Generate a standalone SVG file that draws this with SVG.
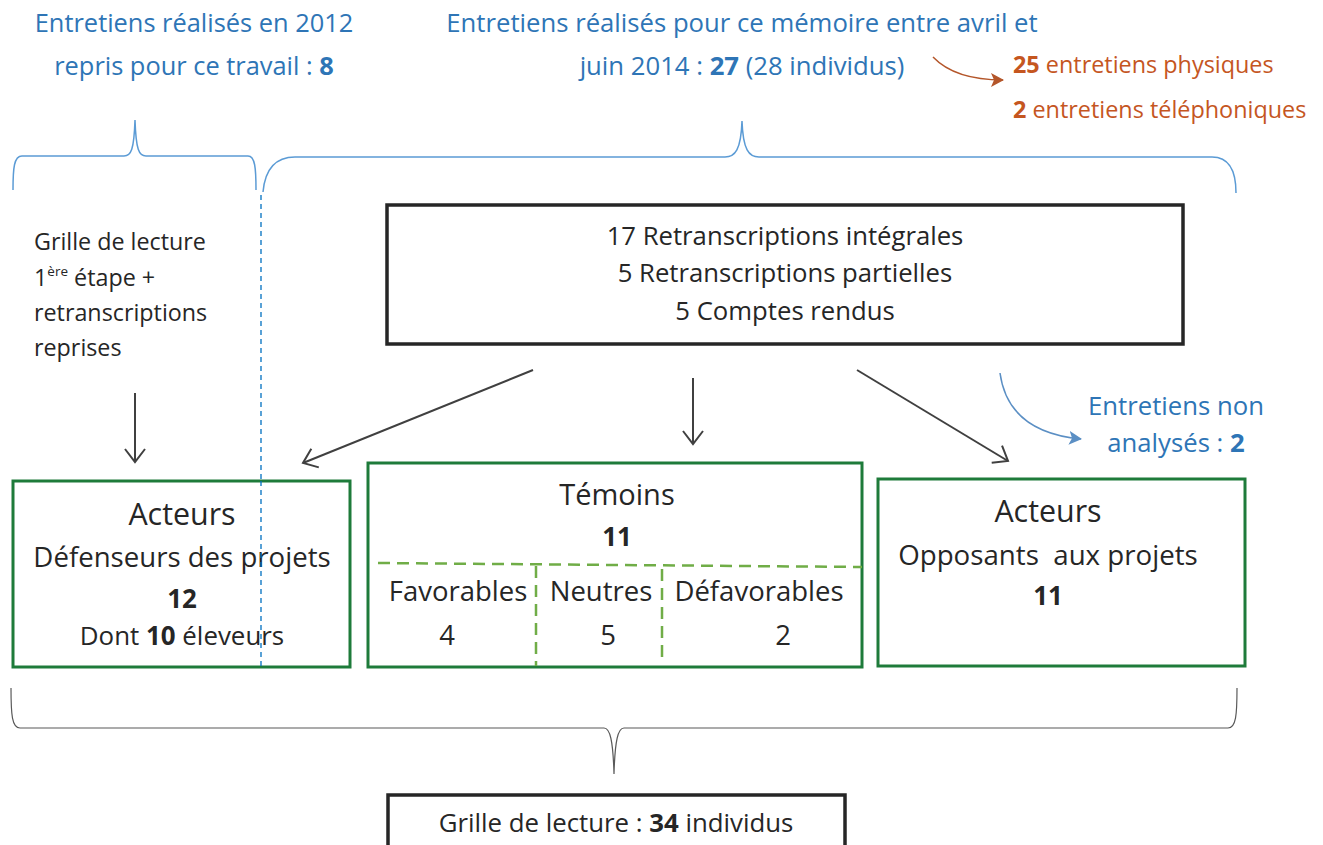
<svg xmlns="http://www.w3.org/2000/svg" width="1323" height="845" viewBox="0 0 1323 845">
<defs>
<style>
text{font-family:"Open Sans","Liberation Sans",Arial,sans-serif;fill:#262626}
.blue{fill:#2E75B6}
.org{fill:#C5561F}
.b{font-weight:bold}
.c{text-anchor:middle}
.brace{fill:none;stroke:#5B9BD5;stroke-width:1.5}
.gbox{fill:#fff;stroke:#1E7B3A;stroke-width:3}
.kbox{fill:#fff;stroke:#262626;stroke-width:3.5}
.arr{stroke:#404040;stroke-width:2;fill:none;marker-end:url(#open)}
.dash{stroke:#70AD47;stroke-width:2.5;stroke-dasharray:12 7;fill:none}
</style>
<marker id="open" markerUnits="userSpaceOnUse" markerWidth="24" markerHeight="24" refX="14" refY="11" orient="auto">
<path d="M1,1 L14,11 L1,21" fill="none" stroke="#404040" stroke-width="2"/>
</marker>
<marker id="orgHead" markerUnits="userSpaceOnUse" markerWidth="16" markerHeight="16" refX="12" refY="7" orient="auto">
<path d="M0,0 L13,7 L0,14 L3,7 Z" fill="#B4562A"/>
</marker>
<marker id="blueHead" markerUnits="userSpaceOnUse" markerWidth="16" markerHeight="16" refX="12" refY="7" orient="auto">
<path d="M0,0 L13,7 L0,14 L3,7 Z" fill="#5B8FC4"/>
</marker>
</defs>
<rect width="1323" height="845" fill="#fff"/>

<g id="top-left-label">
<text class="blue c" x="194" y="32" font-size="25.4">Entretiens réalisés en 2012</text>
<text class="blue c" x="194" y="75" font-size="25.4">repris pour ce travail : <tspan class="b">8</tspan></text>
</g>
<g id="top-mid-label">
<text class="blue c" x="742" y="32" font-size="25.7">Entretiens réalisés pour ce mémoire entre avril et</text>
<text class="blue c" x="742" y="75" font-size="25.7">juin 2014 : <tspan class="b">27</tspan> (28 individus)</text>
</g>
<g id="type-label">
<text class="org" x="1013" y="73" font-size="23.4"><tspan class="b">25</tspan> entretiens physiques</text>
<text class="org" x="1013" y="118" font-size="23.4"><tspan class="b">2</tspan> entretiens téléphoniques</text>
</g>

<g id="braces">
<path class="brace" d="M13,190 C13,168 14,156 22,156 L124,156 C131,156 134,150 135,120 C136,150 139,156 146,156 L248,156 C255,156 256,168 256,190"/>
<path class="brace" d="M263,192 C265,170 275,157 295,157 L725,157 C735,157 741,150 742,121 C743,150 749,157 759,157 L1212,157 C1228,157 1236,170 1236,193"/>
<path d="M11,688 C11,715 12,728 20,728 L604,728 C610,728 613,740 614,774 C615,740 618,728 624,728 L1228,728 C1236,728 1237,715 1237,688" fill="none" stroke="#595959" stroke-width="1.2"/>
<line x1="261" y1="195" x2="261" y2="672" stroke="#0070C0" stroke-width="1.3" stroke-dasharray="5 4"/>
</g>

<g id="left-note">
<text x="34" y="250" font-size="23.3">Grille de lecture</text>
<text x="34" y="286" font-size="23.3">1<tspan font-size="13.5" dy="-10">ère</tspan><tspan dy="10"> étape +</tspan></text>
<text x="34" y="321" font-size="23.3">retranscriptions</text>
<text x="34" y="356" font-size="23.3">reprises</text>
</g>

<g id="transcriptions">
<rect class="kbox" x="387" y="205" width="796" height="139"/>
<text class="c" x="785" y="245" font-size="25.7">17 Retranscriptions intégrales</text>
<text class="c" x="785" y="282" font-size="25.7">5 Retranscriptions partielles</text>
<text class="c" x="785" y="320" font-size="25.7">5 Comptes rendus</text>
</g>

<g id="connectors">
<line class="arr" x1="135" y1="393" x2="135" y2="462"/>
<line class="arr" x1="533" y1="370" x2="303" y2="463"/>
<line class="arr" x1="693" y1="378" x2="693" y2="444"/>
<line class="arr" x1="857" y1="370" x2="1008" y2="461"/>
<path d="M933,57 Q955,80 1003,80" fill="none" stroke="#B4562A" stroke-width="1.5" marker-end="url(#orgHead)"/>
<path d="M1000,373 Q1008,432 1081,439" fill="none" stroke="#5B8FC4" stroke-width="1.5" marker-end="url(#blueHead)"/>
</g>

<g id="non-analyses">
<text class="blue c" x="1176" y="415" font-size="25.7">Entretiens non</text>
<text class="blue c" x="1176" y="452" font-size="25.7">analysés : <tspan class="b">2</tspan></text>
</g>

<g id="defenseurs">
<rect class="gbox" x="13" y="481" width="337" height="186"/>
<text class="c" x="182" y="525" font-size="30.4">Acteurs</text>
<text class="c" x="182" y="567" font-size="27.6">Défenseurs des projets</text>
<text class="c b" x="182" y="608" font-size="25.9">12</text>
<text class="c" x="182" y="645" font-size="25.9">Dont <tspan class="b">10</tspan> éleveurs</text>
</g>
<line x1="261" y1="481" x2="261" y2="668" stroke="#0070C0" stroke-width="1.3" stroke-dasharray="5 4"/>

<g id="temoins">
<rect class="gbox" x="368" y="463" width="494" height="204"/>
<text class="c" x="617" y="505" font-size="29">Témoins</text>
<text class="c b" x="617" y="546" font-size="25.9">11</text>
<path class="dash" d="M378,563 L862,567"/>
<line class="dash" x1="536" y1="566" x2="536" y2="666"/>
<line class="dash" x1="662" y1="569" x2="662" y2="660"/>
<text class="c" x="458" y="601" font-size="27.5">Favorables</text>
<text class="c" x="601" y="601" font-size="27.5">Neutres</text>
<text class="c" x="759" y="601" font-size="27.5">Défavorables</text>
<text class="c" x="447" y="645" font-size="27.5">4</text>
<text class="c" x="608" y="645" font-size="27.5">5</text>
<text class="c" x="783" y="645" font-size="27.5">2</text>
</g>

<g id="opposants">
<rect class="gbox" x="878" y="479" width="367" height="187"/>
<text class="c" x="1048" y="522" font-size="30.4">Acteurs</text>
<text class="c" x="1048" y="565" font-size="27.7">Opposants&#160; aux projets</text>
<text class="c b" x="1048" y="605" font-size="25.9">11</text>
</g>

<g id="grille-finale">
<rect class="kbox" x="388" y="795" width="457" height="60"/>
<text class="c" x="616" y="832" font-size="25.8">Grille de lecture : <tspan class="b">34</tspan> individus</text>
</g>
</svg>
